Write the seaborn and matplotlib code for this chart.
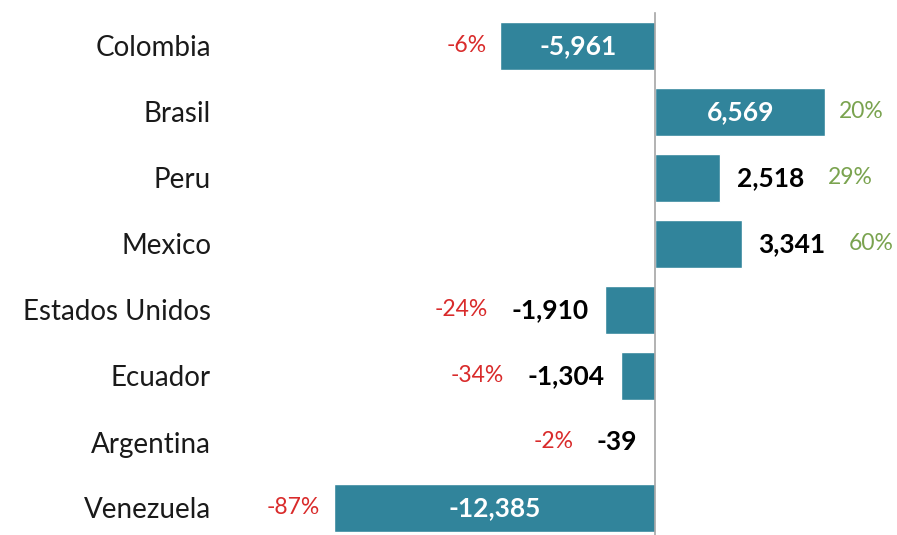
import matplotlib
matplotlib.use("Agg")
import matplotlib.pyplot as plt
import seaborn as sns
import pandas as pd

countries = ["Colombia", "Brasil", "Peru", "Mexico", "Estados Unidos",
             "Ecuador", "Argentina", "Venezuela"]
values = [-5961, 6569, 2518, 3341, -1910, -1304, -39, -12385]
pct_labels = ["-6%", "20%", "29%", "60%", "-24%", "-34%", "-2%", "-87%"]

bar_color = "#31849B"
red = "#D92B2B"
green = "#7AA34F"

df = pd.DataFrame({"country": countries, "value": values})

sns.set_style("white")
plt.rcParams["font.family"] = ["Lato", "DejaVu Sans"]

W, H = 897, 535
fig = plt.figure(figsize=(W / 100, H / 100), dpi=100)
# axes: left 330px, right 897px, top 13px, bottom 541px (below canvas)
ax = fig.add_axes([330 / W, (H - 541) / H, (W - 330) / W, 528 / H])

sns.barplot(data=df, x="value", y="country", orient="h", color=bar_color,
            saturation=1, width=0.73, ax=ax)

ax.set_xlim(-(655 - 330) / 0.02592, (W - 655) / 0.02592)
ax.set_ylim(7.5, -0.5)

for s in ["top", "right", "bottom"]:
    ax.spines[s].set_visible(False)
ax.spines["left"].set_position(("data", 0))
ax.spines["left"].set_color("#A6A6A6")
ax.spines["left"].set_linewidth(1.2)
ax.set_xticks([])
ax.set_xlabel("")
ax.set_ylabel("")
ax.set_yticks([i + 0.5 for i in range(-1, 8)], minor=True)
ax.tick_params(axis="y", which="minor", length=5, width=1.2, color="#A6A6A6",
               direction="out")
ax.tick_params(axis="y", which="major", length=0, pad=(655 - 211) * 0.72,
               labelsize=20, labelcolor="#1a1a1a")

for i, (v, p) in enumerate(zip(values, pct_labels)):
    txt = f"{v:,}"
    sign = 1 if v >= 0 else -1
    pcol = green if v >= 0 else red
    if abs(v) > 4000:
        ax.text(v / 2, i, txt, color="white", fontsize=19, fontweight="bold",
                ha="center", va="center")
        ax.annotate(p, xy=(v, i), xytext=(sign * 10, 0),
                    textcoords="offset points", color=pcol, fontsize=16.5,
                    ha="left" if v >= 0 else "right", va="center")
    else:
        t = ax.annotate(txt, xy=(v, i), xytext=(sign * 12, 0),
                        textcoords="offset points", color="black",
                        fontsize=19, fontweight="bold",
                        ha="left" if v >= 0 else "right", va="center")
        ax.annotate(p, xy=(1, 0.5) if v >= 0 else (0, 0.5), xycoords=t,
                    xytext=(sign * 17, 0), textcoords="offset points",
                    color=pcol, fontsize=16.5,
                    ha="left" if v >= 0 else "right", va="center")

fig.savefig("out.png", dpi=100)
